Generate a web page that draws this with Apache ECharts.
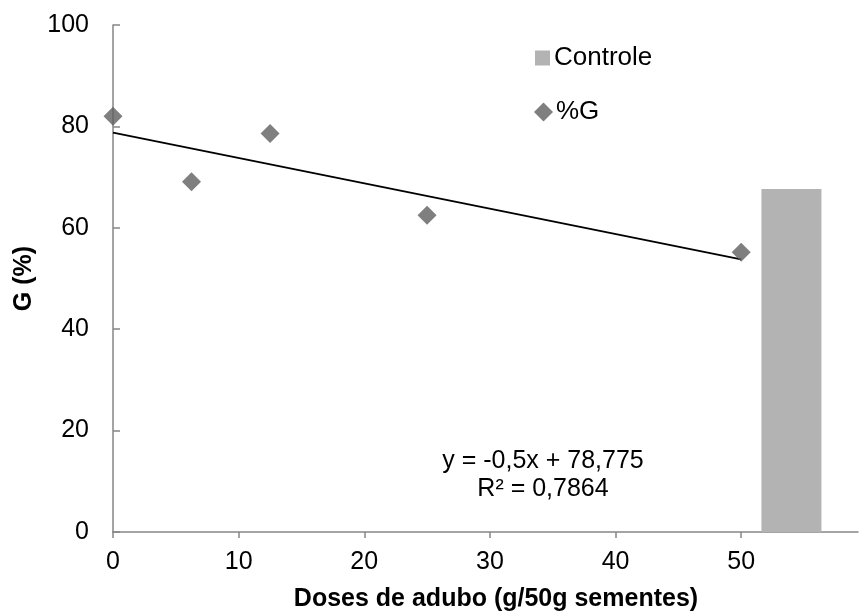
<!DOCTYPE html>
<html>
<head>
<meta charset="utf-8">
<script src="https://cdn.jsdelivr.net/npm/echarts@6/dist/echarts.min.js"></script>
<style>
  html, body { margin: 0; padding: 0; background: #fff; }
  #chart { width: 860px; height: 614px; }
</style>
</head>
<body>
<div id="chart"></div>
<script>
// ---- data ----
var doses = [0, 6.25, 12.5, 25, 50];
var germination = [82.0, 69.1, 78.6, 62.5, 55.2];
var controlPos = [54];
var controlValue = [67.65];
// trend line endpoints, from the printed equation y = -0,5x + 78,775
var trendX = [0, 50];
var trendY = [78.775, 53.775];
var xTicksShown = [0, 10, 20, 30, 40, 50];

var FONT = '"Liberation Sans", Arial, sans-serif';
var AXIS_GREY = '#868686';

var chart = echarts.init(document.getElementById('chart'));

chart.setOption({
  animation: false,
  textStyle: { fontFamily: FONT },
  grid: { left: 113, right: 2, top: 25, bottom: 82, outerBoundsMode: 'none', containLabel: false },
  legend: [
    {
      left: 535,
      top: 45,
      padding: 0,
      itemWidth: 15,
      itemHeight: 15,
      textStyle: { fontFamily: FONT, fontSize: 26, color: '#000', padding: [0, 0, 0, -1] },
      data: [{ name: 'Controle', icon: 'rect' }]
    },
    {
      left: 534,
      top: 99,
      padding: 0,
      itemWidth: 19,
      itemHeight: 19,
      textStyle: { fontFamily: FONT, fontSize: 26, color: '#000', padding: [0, 0, 0, -2] },
      data: [{ name: '%G', icon: 'diamond' }]
    }
  ],
  xAxis: {
    type: 'value',
    min: 0,
    max: 59.3,
    interval: 10,
    name: 'Doses de adubo (g/50g sementes)',
    nameLocation: 'middle',
    nameGap: 55,
    nameTextStyle: {
      fontFamily: FONT, fontSize: 25, fontWeight: 'bold', color: '#000',
      padding: [0, 0, 0, 21]
    },
    splitLine: { show: false },
    axisLine: { lineStyle: { color: AXIS_GREY, width: 1.5 } },
    axisTick: { length: 6, lineStyle: { color: AXIS_GREY, width: 1.5 } },
    axisLabel: {
      margin: 18,
      fontSize: 25,
      color: '#000',
      showMaxLabel: false,
      formatter: function (v) {
        return xTicksShown.indexOf(v) >= 0 ? String(v) : '';
      }
    }
  },
  yAxis: {
    type: 'value',
    min: 0,
    max: 100,
    interval: 20,
    name: 'G (%)',
    nameLocation: 'middle',
    nameGap: 74,
    nameRotate: 90,
    nameTextStyle: { fontFamily: FONT, fontSize: 25, fontWeight: 'bold', color: '#000' },
    splitLine: { show: false },
    axisLine: { show: true, lineStyle: { color: AXIS_GREY, width: 1.5 } },
    axisTick: { show: true, inside: true, length: 7, lineStyle: { color: AXIS_GREY, width: 1.5 } },
    axisLabel: { margin: 24, fontSize: 25, color: '#000' }
  },
  series: [
    {
      name: 'Controle',
      type: 'bar',
      barWidth: 60,
      itemStyle: { color: '#b3b3b3' },
      data: controlPos.map(function (x, i) { return [x, controlValue[i]]; })
    },
    {
      name: 'trend',
      type: 'line',
      symbol: 'none',
      lineStyle: { color: '#000', width: 2 },
      data: trendX.map(function (x, i) { return [x, trendY[i]]; }),
      z: 3
    },
    {
      name: '%G',
      type: 'scatter',
      symbol: 'diamond',
      symbolSize: 19,
      itemStyle: { color: '#5f5f5f' },
      data: doses.map(function (x, i) { return [x, germination[i]]; }),
      z: 4
    }
  ],
  graphic: [
    {
      type: 'text',
      x: 543,
      y: 447,
      style: {
        text: 'y = -0,5x + 78,775\nR\u00b2 = 0,7864',
        font: '25px ' + FONT,
        fill: '#000',
        align: 'center',
        verticalAlign: 'top',
        lineHeight: 28
      }
    }
  ]
});
</script>
</body>
</html>
